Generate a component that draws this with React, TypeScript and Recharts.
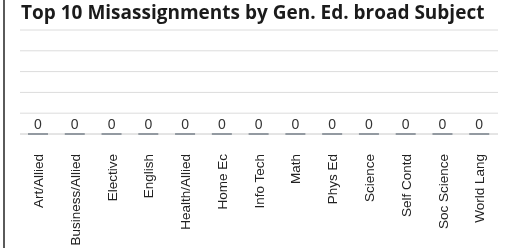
import { BarChart, Bar, XAxis, YAxis, CartesianGrid, LabelList } from "recharts";

const subjects = [
  "Art/Allied",
  "Business/Allied",
  "Elective",
  "English",
  "Health/Allied",
  "Home Ec",
  "Info Tech",
  "Math",
  "Phys Ed",
  "Science",
  "Self Contd",
  "Soc Science",
  "World Lang",
];
const counts = [0, 0, 0, 0, 0, 0, 0, 0, 0, 0, 0, 0, 0];
const yTicks = [0, 1, 2, 3, 4, 5];

const data = subjects.map((s, i) => ({ subject: s, count: counts[i] }));

function RotatedTick(props: any) {
  const { x, y, payload } = props;
  const ty = y + 12;
  return (
    <text
      x={x}
      y={ty}
      dy="0.35em"
      transform={`rotate(-90, ${x}, ${ty})`}
      textAnchor="end"
      fontFamily="'Liberation Sans', Arial, sans-serif"
      fontSize={13.5}
      fill="#222"
    >
      {payload.value}
    </text>
  );
}

// zero-height bars still show a short dark line on the baseline
function FlatBar(props: any) {
  const { x, y, width, height } = props;
  return <rect x={x} y={y - 1} width={width} height={Math.max(height, 0) + 2} fill="#4b5866" />;
}

export default function App() {
  return (
    <div style={{ position: "fixed", left: 0, top: 0, width: 521, height: 248, background: "#fff" }}>
      <div style={{ position: "absolute", left: 3, top: 0, width: 2, height: 248, background: "#5a5a5a" }} />
      <div
        style={{
          position: "absolute",
          left: 21,
          top: -1,
          fontFamily: "'Open Sans', sans-serif",
          fontWeight: 700,
          fontSize: 19,
          color: "#1b1b1b",
          whiteSpace: "nowrap",
        }}
      >
        Top 10 Misassignments by Gen. Ed. broad Subject
      </div>
      <BarChart width={521} height={248} data={data} margin={{ top: 30, right: 23, left: 20, bottom: 0 }}>
        <CartesianGrid vertical={false} stroke="#dcdcdc" />
        <XAxis
          dataKey="subject"
          height={114}
          interval={0}
          axisLine={{ stroke: "#dcdcdc" }}
          tickLine={false}
          tick={<RotatedTick />}
        />
        <YAxis hide domain={[0, 5]} ticks={yTicks} interval={0} />
        <Bar dataKey="count" barSize={20} shape={<FlatBar />} isAnimationActive={false}>
          <LabelList
            dataKey="count"
            position="top"
            offset={5}
            fill="#333"
            fontSize={14}
            fontFamily="'Liberation Sans', Arial, sans-serif"
          />
        </Bar>
      </BarChart>
    </div>
  );
}
